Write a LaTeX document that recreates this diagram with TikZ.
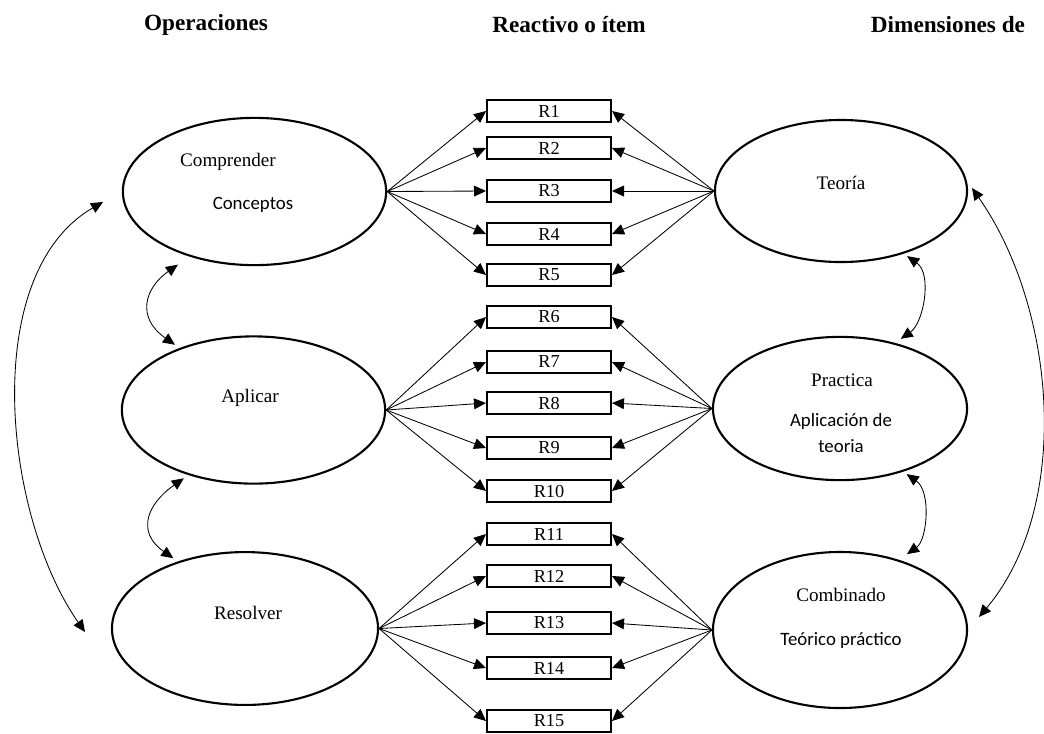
\documentclass[tikz,border=0pt]{standalone}
\usepackage{fontspec}
\setmainfont{Liberation Serif}
\newfontfamily\califont{Carlito}
\usetikzlibrary{arrows.meta,shapes.geometric}

\begin{document}
\begin{tikzpicture}[x=0.025cm, y=0.025cm,
    elip/.style={draw, ellipse, line width=1.5pt, minimum width=6.58cm, minimum height=3.68cm, inner sep=0pt},
    item/.style={draw, line width=1.4pt, minimum width=3.1cm, minimum height=0.57cm, inner sep=0pt, font=\fontsize{13}{14}\selectfont},
    txt/.style={font=\fontsize{13.6}{16}\selectfont},
    stxt/.style={font=\califont\fontsize{13.4}{18.4}\selectfont, align=center},
    head/.style={font=\bfseries\fontsize{16.5}{19}\selectfont},
    flecha/.style={-{Triangle[length=3mm,width=2.7mm]}, line width=0.6pt},
    dflecha/.style={{Triangle[length=3mm,width=2.7mm]}-{Triangle[length=3mm,width=2.7mm]}, line width=0.6pt}]
    \useasboundingbox (0,0) rectangle (1044,-733);
    % titulos
    \node[head] (hop) at (206,-25) {Operaciones};
    \node[head] (hre) at (569,-25) {Reactivo o ítem};
    \node[head, anchor=west] (hdi) at (866,-25) {Dimensiones de};
    % operaciones
    \node[elip] (comp) at (254.5,-191.5) {};
    \node[elip] (apl) at (253.5,-410) {};
    \node[elip, minimum width=6.65cm, minimum height=3.82cm] (res) at (245,-628.5) {};
    \node[txt] (tcomp) at (228,-162) {Comprender};
    \node[stxt] (tconc) at (253,-205) {Conceptos};
    \node[txt] (tapl) at (250,-398) {Aplicar};
    \node[txt] (tres) at (248,-613) {Resolver};
    % dimensiones
    \node[elip, minimum width=6.3cm, minimum height=3.55cm] (teo) at (841,-191) {};
    \node[elip, minimum width=6.35cm, minimum height=3.58cm] (prac) at (840,-408.5) {};
    \node[elip, minimum width=6.35cm, minimum height=3.9cm] (comb) at (840,-630) {};
    \node[txt] (tteo) at (841,-183) {Teoría};
    \node[txt] (tprac) at (842,-380) {Practica};
    \node[stxt] (tapt) at (841,-433) {Aplicación de\\teoria};
    \node[txt] (tcomb) at (841,-595) {Combinado};
    \node[stxt] (tteop) at (841,-640) {Teórico práctico};
    % reactivos
    \foreach \i/\y in {1/111,2/148,3/191,4/234,5/275,6/317,7/362,8/403,9/448,10/491,11/534,12/576,13/623,14/668,15/721}
      \node[item] (r\i) at (549,-\y) {R\i};
    \foreach \i in {1,...,5} {\draw[flecha] (comp.east) -- (r\i.west); \draw[flecha] (teo.west) -- (r\i.east);}
    \foreach \i in {6,...,10} {\draw[flecha] (apl.east) -- (r\i.west); \draw[flecha] (prac.west) -- (r\i.east);}
    \foreach \i in {11,...,15} {\draw[flecha] (res.east) -- (r\i.west); \draw[flecha] (comb.west) -- (r\i.east);}
    % correlaciones
    \draw[dflecha, shorten <=10pt, shorten >=4pt] (comp.225) to[out=215, in=145, looseness=1.5] (apl.140);
    \draw[dflecha, shorten <=4pt, shorten >=4pt] (apl.225) to[out=215, in=145, looseness=1.5] (res.135);
    \draw[dflecha, shorten <=3pt, shorten >=5pt] (teo.315) to[out=325, in=35] (prac.50);
    \draw[dflecha, shorten <=3pt, shorten >=7pt] (prac.315) to[out=325, in=35] (comb.50);
    \coordinate (izqA) at (103,-202);
    \coordinate (izqB) at (85,-632);
    \coordinate (derA) at (972,-188);
    \coordinate (derB) at (979,-617);
    \draw[dflecha] (izqA) to[out=210, in=125, looseness=0.85] (izqB);
    \draw[dflecha] (derA) to[out=305, in=50, looseness=0.87] (derB);
\end{tikzpicture}
\end{document}
